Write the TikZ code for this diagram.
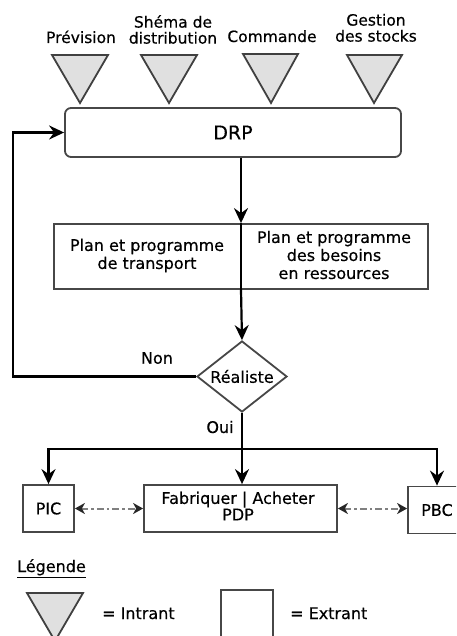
\documentclass[tikz,border=0pt]{standalone}
\usepackage{fontspec}
\setmainfont{DejaVu Sans}[FakeBold=0.4]
\usetikzlibrary{arrows.meta,shapes.geometric}
\begin{document}
\begin{tikzpicture}[x=1pt,y=-1pt,
  boxstyle/.style={draw=black!72, line width=1.8pt, fill=white, inner sep=0pt},
  conn/.style={line width=2.2pt, -{Stealth[length=15pt,width=14pt,inset=5pt]}},
  plainline/.style={line width=2.2pt},
  dd/.style={draw=black!50, line width=2pt, dash pattern=on 7pt off 3pt on 2.5pt off 3pt,
     {Stealth[length=10pt,width=11pt,inset=3pt,black!85]}-{Stealth[length=10pt,width=11pt,inset=3pt,black!85]}},
  lab/.style={font=\fontsize{16}{18}\selectfont, align=center, inner sep=0pt},
  toplab/.style={font=\fontsize{15.5}{16}\selectfont, align=center, inner sep=0pt},
  tri/.style={draw=black!75, fill=black!12, line width=1.8pt, line join=miter}
]
\clip (0,0) rectangle (456,636);
\useasboundingbox (0,0) rectangle (456,636);

% top labels
\node[toplab, anchor=base] (lprev) at (81,43) {Prévision};
\node[toplab, anchor=base] (lcmd) at (272,42) {Commande};
\node[toplab, anchor=south] (lshema) at (173,44) {Shéma de\\distribution};
\node[toplab, anchor=south] (lgest) at (376,42) {Gestion\\des stocks};

% input triangles
\draw[tri] (52,55) -- (108,55) -- (80,103) -- cycle;
\draw[tri] (141,55) -- (197,55) -- (169,103) -- cycle;
\draw[tri] (243,54) -- (298,54) -- (271,103) -- cycle;
\draw[tri] (347,55) -- (402,55) -- (374,103) -- cycle;

% DRP
\node[boxstyle, rounded corners=6pt, minimum width=336pt, minimum height=49pt,
      font=\fontsize{19}{20}\selectfont] (drp) at (233,132.5) {DRP};

% plan box
\node[boxstyle, minimum width=374pt, minimum height=65pt] (plan) at (241,256.5) {};
\node[lab] (plan1) at (147,255.5) {Plan et programme\\de transport};
\node[lab] (plan2) at (334,255) {Plan et programme\\des besoins\\en ressources};

% decision
\node[boxstyle, diamond, aspect=1.27, minimum width=90pt, minimum height=71pt,
      font=\fontsize{16}{18}\selectfont] (real) at (242,376.5) {Réaliste};

\draw[conn] (drp.south -| plan.north) -- (plan.north);
\draw[plainline] (plan.north) -- (plan.south);
\draw[conn] (plan.south) -- (real.north);

% loop back
\coordinate (loop) at (13,376.5);
\draw[conn] (real.west) -- (loop) |- (drp.west);
\node[lab] (non) at (157,358) {Non};

% outputs
\node[boxstyle, minimum width=51pt, minimum height=47pt, font=\fontsize{16}{18}\selectfont] (pic) at (48.5,508.5) {PIC};
\node[boxstyle, minimum width=193pt, minimum height=47pt] (fab) at (240.5,508.5) {};
\node[lab, font=\fontsize{16}{13.5}\selectfont] (fabt) at (238,506) {Fabriquer | Acheter\\PDP};
\node[boxstyle, minimum width=58pt, minimum height=47pt, font=\fontsize{16}{18}\selectfont] (pbc) at (437,510) {PBC};

\coordinate (br) at (242,449);
\draw[plainline] (real.south) -- (br);
\node[lab] (oui) at (220,427) {Oui};
\draw[conn] (br) -| (pic.north);
\draw[conn] (br) -| (pbc.north);
\draw[conn] (br) -- (br |- fab.north);

\draw[dd] (pic.east) -- (fab.west);
\draw[dd] (fab.east) -- (fab.east -| pbc.west);

% legend
\node[lab, anchor=base west] (leg) at (17,572) {\underline{Légende}};
\draw[tri] (27,593) -- (83,593) -- (55,641) -- cycle;
\node[lab, anchor=base west] (intr) at (102,619) {= Intrant};
\node[boxstyle, minimum width=52pt, minimum height=50pt] (legbox) at (247,615) {};
\node[lab, anchor=base west] (extr) at (290,619) {= Extrant};
\end{tikzpicture}
\end{document}
